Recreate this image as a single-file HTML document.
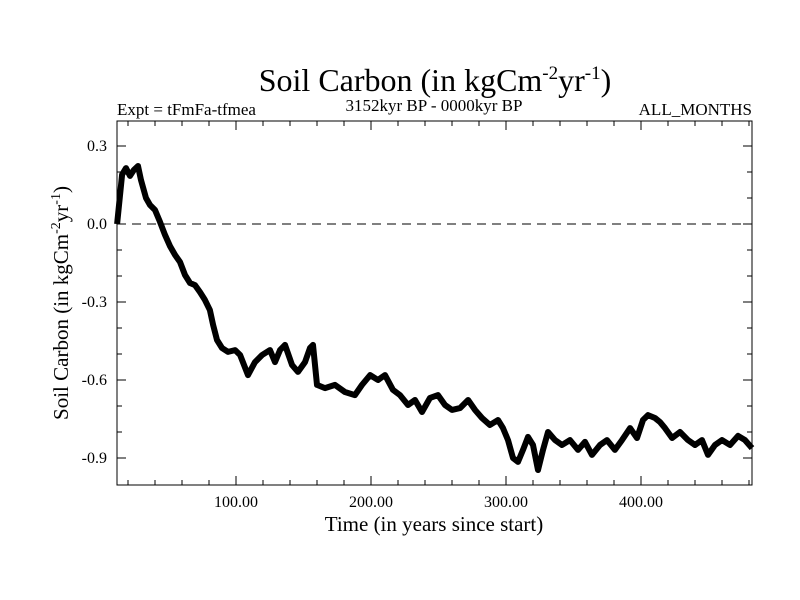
<!DOCTYPE html>
<html><head><meta charset="utf-8"><style>
body{margin:0;background:#fff}
svg{display:block;font-family:"Liberation Serif",serif}
</style></head><body>
<svg id="chart" width="800" height="600">
<text x="435" y="91" font-size="32" text-anchor="middle">Soil Carbon (in kgCm<tspan dy="-12" font-size="19">-2</tspan><tspan dy="12">yr</tspan><tspan dy="-12" font-size="19">-1</tspan><tspan dy="12">)</tspan></text>
<text x="117" y="115" font-size="17">Expt = tFmFa-tfmea</text>
<text x="434" y="111" font-size="17" text-anchor="middle">3152kyr BP - 0000kyr BP</text>
<text x="752" y="115" font-size="17" text-anchor="end">ALL_MONTHS</text>
<text transform="translate(68,303) rotate(-90)" font-size="21" text-anchor="middle">Soil Carbon (in kgCm<tspan dy="-8" font-size="14">-2</tspan><tspan dy="8">yr</tspan><tspan dy="-8" font-size="14">-1</tspan><tspan dy="8">)</tspan></text>
<text x="434" y="531" font-size="21" text-anchor="middle">Time (in years since start)</text>
<g id="axes"></g>
<g id="series"></g>
</svg>
<script>
const times=[11.9,15.6,18.5,21.5,24.4,27.4,29.6,33.3,36.3,40.0,43.7,47.4,51.1,54.8,58.5,62.2,65.9,69.6,73.3,77.0,80.7,83.0,85.9,89.6,94.1,99.3,103.0,108.9,114.1,119.3,125.2,128.9,132.6,136.3,141.5,145.9,151.1,154.8,157.0,160.0,165.9,173.3,180.7,188.1,193.3,199.3,205.2,210.4,216.3,221.5,227.4,232.6,237.8,243.7,249.6,254.8,260.0,265.9,271.9,277.0,282.2,288.1,294.1,297.8,301.5,305.2,308.9,312.6,316.3,320.0,323.7,327.4,331.1,336.3,341.5,347.4,353.3,358.5,363.7,369.6,374.8,380.7,385.9,391.9,397.0,401.5,405.2,410.4,414.1,417.8,423.0,428.9,434.8,440.0,445.2,449.6,454.8,460.0,465.9,471.9,477.0,482.2];
const soilCarbon=[0.00,0.19,0.215,0.185,0.208,0.223,0.169,0.100,0.073,0.054,0.008,-0.042,-0.085,-0.119,-0.146,-0.196,-0.227,-0.235,-0.262,-0.292,-0.331,-0.388,-0.446,-0.477,-0.492,-0.485,-0.504,-0.581,-0.531,-0.504,-0.485,-0.531,-0.485,-0.465,-0.542,-0.569,-0.531,-0.477,-0.465,-0.619,-0.631,-0.619,-0.646,-0.658,-0.619,-0.581,-0.6,-0.581,-0.638,-0.658,-0.696,-0.677,-0.723,-0.669,-0.658,-0.696,-0.715,-0.708,-0.677,-0.715,-0.746,-0.773,-0.754,-0.785,-0.831,-0.9,-0.915,-0.869,-0.819,-0.85,-0.946,-0.869,-0.8,-0.831,-0.85,-0.831,-0.869,-0.838,-0.888,-0.85,-0.831,-0.869,-0.831,-0.785,-0.823,-0.754,-0.735,-0.746,-0.762,-0.785,-0.823,-0.8,-0.831,-0.85,-0.831,-0.888,-0.85,-0.831,-0.85,-0.815,-0.831,-0.862];
const xTickLabels=["100.00","200.00","300.00","400.00"];
const xTickValues=[100,200,300,400];
const yTickLabels=["0.3","0.0","-0.3","-0.6","-0.9"];
const yTickValues=[0.3,0,-0.3,-0.6,-0.9];
const L=117,R=752,T=121,B=485;
const X=t=>101+1.35*t;
const Y=v=>224-260*v;
const NS="http://www.w3.org/2000/svg";
const ax=document.getElementById('axes'),se=document.getElementById('series');
function mk(tag,attrs,parent){const e=document.createElementNS(NS,tag);for(const k in attrs)e.setAttribute(k,attrs[k]);parent.appendChild(e);return e;}
let frame=mk('rect',{x:L,y:T,width:R-L,height:B-T,fill:'none',stroke:'#000','stroke-width':1},ax);


let zl=mk('line',{x1:L,x2:R,y1:Y(0),y2:Y(0),stroke:'#000','stroke-dasharray':'9,6','stroke-width':1},ax);


for(let t=20;t<=480;t+=20){const x=X(t);if(x<L||x>R)continue;const len=(t%100===0)?9:5;
 mk('line',{x1:x,x2:x,y1:B,y2:B-len,stroke:'#000'},ax);mk('line',{x1:x,x2:x,y1:T,y2:T+len,stroke:'#000'},ax);}
for(let k=-9;k<=3;k++){const v=k/10,y=Y(v);const len=(k%3===0)?9:5;
 mk('line',{x1:L,x2:L+len,y1:y,y2:y,stroke:'#000'},ax);mk('line',{x1:R,x2:R-len,y1:y,y2:y,stroke:'#000'},ax);}
xTickValues.forEach((t,i)=>{const e=mk('text',{x:X(t),y:B+22,'font-size':16,'text-anchor':'middle'},ax);e.textContent=xTickLabels[i];
 
 });
yTickValues.forEach((v,i)=>{const e=mk('text',{x:L-10,y:Y(v)+5,'font-size':16,'text-anchor':'end'},ax);e.textContent=yTickLabels[i];
 
 });
const d=times.map((t,i)=>(i?'L':'M')+X(t).toFixed(1)+','+Y(soilCarbon[i]).toFixed(1)).join('');
const p=mk('path',{d:d,fill:'none',stroke:'#000','stroke-width':6,'stroke-linejoin':'round'},se);


</script>
</body></html>
